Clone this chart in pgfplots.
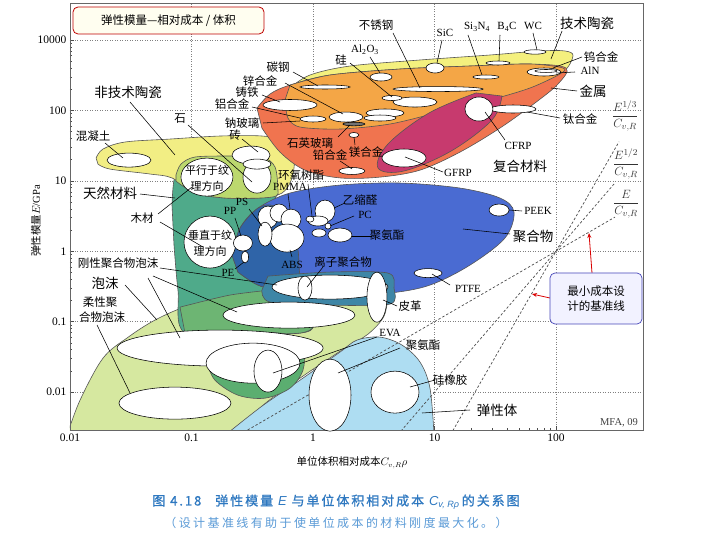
\documentclass[border=0pt]{standalone}
\usepackage{fontspec}
\setmainfont{Liberation Serif}
\newfontfamily\cjk{Noto Sans CJK SC}
\newfontfamily\capf[LetterSpace=15,FakeBold=1]{Noto Sans CJK SC}
\newfontfamily\capg[LetterSpace=20]{Noto Sans CJK SC}
\newfontfamily\lsans{Liberation Sans}
\usepackage{pgfplots}
\usepackage{pgfplotstable}
\pgfplotsset{compat=1.18}
\usetikzlibrary{arrows.meta}

\definecolor{cFoam}{HTML}{D6E8A0}
\definecolor{cElast}{HTML}{AEDDF2}
\definecolor{cNat}{HTML}{4FAA8A}
\definecolor{cNatFoam}{HTML}{6DB573}
\definecolor{cRing}{HTML}{5BAE70}
\definecolor{cNTC}{HTML}{F2EE84}
\definecolor{cNTCNat}{HTML}{BCD86E}
\definecolor{cPoly}{HTML}{4A6BD2}
\definecolor{cPolyNat}{HTML}{2F64A8}
\definecolor{cIono}{HTML}{3E86A6}
\definecolor{cTech}{HTML}{F4F07E}
\definecolor{cMetal}{HTML}{F0744F}
\definecolor{cTechMetal}{HTML}{F4A646}
\definecolor{cComp}{HTML}{C73A6E}
\definecolor{cEdge}{HTML}{555555}
\definecolor{capA}{HTML}{2E78C0}
\definecolor{capB}{HTML}{5A9AD6}

\pgfdeclareplotmark{ell}{%
  \pgfmathsetmacro\myangb{\myang+90}%
  \pgfpathellipse{\pgfpointorigin}{\pgfpointpolar{\myang}{\myrx pt}}{\pgfpointpolar{\myangb}{\myry pt}}%
  \pgfusepathqfillstroke}

\pgfplotstableread{
x y rx ry ang
67.1 676 11 2.2 0
33.3 471 12 2 0
26.5 298 13 2 0
10.1 400 9 5 0
79.6 351 17 4 0
82.7 363 11 1.5 0
10.7 201 45 2.5 0
6.91 131.5 22 5 0
4.47 150 10 2.5 0
3.63 298 11 4 0
1.256 215 25 2 0
0.647 119.4 27 5.5 0
1.0 75.5 13 3 0
1.87 80.5 17 5 0
3.92 91.9 19 4 0
3.56 78.0 16 3 0
2.17 44.8 5 2.5 0
2.09 13.8 13 3.5 0
44.3 104.7 23 4 0
23.2 104.7 14 12 0
5.61 21.1 22 9 0
0.0306 19.7 22 7 0
0.309 23.2 19 9 0
0.346 11.3 14 16 0
0.346 17.3 14 5 0
0.134 11.3 26 19 0
0.142 1.35 26 26 0
0.265 1.31 9.5 8 0
0.276 0.828 3.5 6 0
0.426 3.06 10 11 0
0.525 3.49 9 9 0
0.659 2.86 10 10 0
0.611 1.54 17 14 0
0.403 1.75 7 12 0
1.256 3.72 10 11 0
1.10 2.69 10 5 0
0.944 2.86 4 3 0
1.33 2.28 3 3 0
1.667 1.70 12 7 0
1.12 1.82 7 4 0
34.0 3.85 10 6 0
8.85 0.490 14 4.5 0
1.38 0.310 58 12 0
0.859 0.300 7 12 0
3.36 0.223 10 25 0
0.634 0.124 66 13 0
0.172 0.0422 103 18 0
0.321 0.0258 47 20 0
0.426 0.0199 14 21 0
0.0731 0.00698 56 16 0
1.38 0.00906 21 36 0
4.73 0.0100 24 21 0
}\bubbles

\pgfplotstableread{
x y rx ry ang
2.17 64.1 11 1.8 0
}\darkbub

\begin{document}
\begin{tikzpicture}[x=1pt,y=1pt]
\useasboundingbox (0,0) rectangle (710,539);
\begin{axis}[
  at={(70pt,109pt)}, anchor=south west, scale only axis,
  width=573pt, height=427pt,
  xmode=log, ymode=log,
  xmin=0.01, xmax=520, ymin=0.0029, ymax=3350,
  xtick={0.01,0.1,1,10,100}, xticklabels={0.01,0.1,1,10,100},
  ytick={0.01,0.1,1,10,100,1000}, yticklabels={0.01,0.1,1,10,100,10000},
  tick pos=left, tick align=inside,
  major tick length=4pt, minor tick length=2.2pt,
  tick style={black!70, line width=0.5pt},
  grid=major, major grid style={dash pattern=on 1pt off 1.5pt, black!50, line width=0.55pt},
  axis line style={black!60, line width=0.8pt},
  tick label style={font=\fontsize{11.5}{12}\selectfont},
  clip=true,
]
% envelopes
\addplot[fill=cFoam, draw=cEdge, line width=0.6pt, smooth, tension=0.55] coordinates {
(0.0095,0.0025) (0.0121,0.0077) (0.0187,0.0304) (0.030,0.060) (0.050,0.1054) (0.092,0.1667) (0.2075,0.239) (0.535,0.290) (1.38,0.310) (2.94,0.310) (3.99,0.231) (3.84,0.120) (2.84,0.0667) (1.83,0.0422) (0.782,0.0158) (0.380,0.00632) (0.232,0.0025)} -- cycle;
\addplot[fill=cElast, draw=cEdge, line width=0.6pt, smooth, tension=0.55] coordinates {
(0.192,0.0025) (0.380,0.00632) (0.782,0.0148) (1.667,0.0370) (2.30,0.0548) (3.56,0.0604) (5.40,0.0466) (7.60,0.0267) (9.18,0.0114) (9.91,0.0025)} -- cycle;
\addplot[fill=cNat, draw=cEdge, line width=0.6pt, smooth, tension=0.55] coordinates {
(0.0691,4.53) (0.0718,10.3) (0.0819,17.3) (0.107,21.8) (0.2075,22.5) (0.380,21.8) (0.487,15.7) (0.515,7.40) (0.477,4.25) (0.672,2.36) (0.753,1.04) (0.782,0.459) (0.982,0.239) (1.02,0.0895) (0.782,0.0689) (0.303,0.0667) (0.0884,0.0689) (0.0774,0.281) (0.0718,1.22)} -- cycle;
\addplot[fill=cNatFoam, draw=cEdge, line width=0.6pt, smooth, tension=0.4] coordinates {
(0.0804,0.161) (0.2075,0.239) (0.535,0.290) (0.982,0.300) (1.02,0.0895) (0.782,0.0689) (0.303,0.0667) (0.0884,0.0689)} -- cycle;
\addplot[fill=cRing, draw=cEdge, line width=0.6pt, smooth, tension=0.55] coordinates {
(0.134,0.0267) (0.156,0.0148) (0.241,0.00906) (0.403,0.00822) (0.647,0.0114) (0.827,0.0205) (0.827,0.0395) (0.647,0.0645) (0.333,0.0711) (0.172,0.0645) (0.134,0.0422)} -- cycle;
\addplot[fill=cNTC, draw=cEdge, line width=0.6pt, smooth, tension=0.55] coordinates {
(0.0164,21.1) (0.0187,28.3) (0.0284,35.6) (0.0665,39.2) (0.172,43.3) (0.380,43.3) (0.589,36.8) (0.698,22.5) (0.672,11.0) (0.556,6.71) (0.366,5.70) (0.189,5.70) (0.107,6.71) (0.0691,11.0) (0.0455,12.5) (0.0213,14.7) (0.0170,17.3)} -- cycle;
\addplot[fill=cNTCNat, draw=cEdge, line width=0.6pt, smooth, tension=0.5] coordinates {
(0.0745,12.1) (0.0819,17.3) (0.107,21.8) (0.2075,22.5) (0.380,21.8) (0.487,15.7) (0.515,7.40) (0.496,6.08) (0.366,5.70) (0.189,5.70) (0.107,6.71) (0.0745,9.93)} -- cycle;
\addplot[fill=cPoly, draw=cEdge, line width=0.6pt, smooth, tension=0.55] coordinates {
(0.2154,0.883) (0.251,2.14) (0.353,4.11) (0.647,6.71) (1.667,8.71) (5.20,9.31) (16.2,7.90) (34.6,5.70) (45.1,3.60) (38.0,1.54) (19.6,0.637) (9.18,0.331) (4.30,0.255) (1.667,0.231) (0.647,0.247) (0.353,0.331) (0.241,0.507)} -- cycle;
\addplot[fill=cPolyNat, draw=cEdge, line width=0.6pt, smooth, tension=0.5] coordinates {
(0.2154,0.883) (0.251,2.14) (0.353,4.11) (0.477,4.39) (0.672,2.36) (0.753,1.04) (0.782,0.459) (0.910,0.255) (0.647,0.247) (0.353,0.331) (0.241,0.507)} -- cycle;
\addplot[fill=cIono, draw=cEdge, line width=0.6pt, smooth, tension=0.5] coordinates {
(0.426,0.444) (1.38,0.507) (4.14,0.490) (4.64,0.300) (4.30,0.178) (1.38,0.172) (0.443,0.190) (0.380,0.281)} -- cycle;
\addplot[fill=cTech, draw=cEdge, line width=0.6pt, smooth, tension=0.55] coordinates {
(0.647,208) (0.944,318) (2.02,427) (7.60,520) (28.6,612) (73.9,698) (118.6,698) (138,593) (114,351) (61.1,208) (28.6,140.6) (11.1,94.9) (4.30,64.1) (1.667,54.4) (0.782,58.1) (0.622,78.0) (0.589,140.6)} -- cycle;
\addplot[fill=cMetal, draw=cEdge, line width=0.6pt, smooth, tension=0.55] coordinates {
(0.346,108) (0.443,171) (0.647,229) (1.38,318) (5.20,387) (19.6,427) (61.1,456) (120.8,400) (103.8,237) (67.1,127.4) (34.6,56.2) (16.2,25.6) (7.60,14.2) (3.56,11.3) (1.667,11.0) (0.859,14.2) (0.535,25.6) (0.380,56.2)} -- cycle;
\addplot[fill=cTechMetal, draw=cEdge, line width=0.6pt, smooth, tension=0.5] coordinates {
(0.647,229) (1.38,318) (5.20,387) (19.6,427) (61.1,456) (114,400) (107.9,329) (61.1,208) (28.6,140.6) (11.1,94.9) (4.30,64.1) (1.667,54.4) (0.782,58.1) (0.622,78.0) (0.589,140.6)} -- cycle;
\addplot[fill=cComp, draw=cEdge, line width=0.6pt, smooth, tension=0.6] coordinates {
(35.9,160) (29.7,73.1) (13.7,26.5) (5.61,13.8) (3.43,15.2) (4.14,33.3) (9.01,91.9) (22.0,177)} -- cycle;
% guide lines
\addplot[black!70, line width=0.7pt, dash pattern=on 2.5pt off 2pt] coordinates {(0.25,0.0025) (306,3.06)};
\addplot[black!70, line width=0.7pt, dash pattern=on 2.5pt off 2pt] coordinates {(5,0.0025) (306,9.36)};
\addplot[black!70, line width=0.7pt, dash pattern=on 2.5pt off 2pt] coordinates {(13.57,0.0025) (330,35.9)};
% bubbles
\addplot[scatter, only marks, mark=ell, line width=0.55pt, point meta=\thisrow{rx},
  scatter/use mapped color={draw=black, fill=white},
  visualization depends on={\thisrow{rx}\as\myrx},
  visualization depends on={\thisrow{ry}\as\myry},
  visualization depends on={\thisrow{ang}\as\myang}] table[x=x,y=y] {\bubbles};
\addplot[scatter, only marks, mark=ell, line width=0.55pt, point meta=\thisrow{rx},
  scatter/use mapped color={draw=black, fill=black!55},
  visualization depends on={\thisrow{rx}\as\myrx},
  visualization depends on={\thisrow{ry}\as\myry},
  visualization depends on={\thisrow{ang}\as\myang}] table[x=x,y=y] {\darkbub};
\draw[black!60, line width=0.8pt] (rel axis cs:0,0) rectangle (rel axis cs:1,1);
\end{axis}

\node[rotate=90, font=\fontsize{10.5}{12}\selectfont] at (36,318) {{\cjk 弹性模量}$E$/GPa};

\begin{scope}[shift={(0,539)}, yscale=-1]
\tikzset{lab/.style={font=\cjk\fontsize{11.5}{12}\selectfont, inner sep=0pt},
  big/.style={font=\cjk\fontsize{13.5}{14}\selectfont, inner sep=0pt},
  lat/.style={font=\fontsize{11}{12}\selectfont, inner sep=0pt},
  ld/.style={black, line width=0.55pt}}
% leaders
\draw[ld] (393,33)--(420,88);
\draw[ld] (370,57)--(380,73);
\draw[ld] (350,63)--(392,97);
\draw[ld] (293,72)--(318,86);
\draw[ld] (285,83)--(343,114);
\draw[ld] (262,95)--(280,102);
\draw[ld] (252,107)--(300,118);
\draw[ld] (263,123)--(300,121);
\draw[ld] (242,139)--(258,152);
\draw[ld] (188,125)--(252,182);
\draw[ld] (130,102)--(175,155);
\draw[ld] (105,143)--(123,158);
\draw[ld] (338,137)--(350,125);
\draw[ld] (340,161)--(352,169);
\draw[ld] (355,145)--(354,137);
\draw[ld] (442,40)--(437,63);
\draw[ld] (468,35)--(482,75);
\draw[ld] (500,35)--(499,61);
\draw[ld] (533,33)--(537,50);
\draw[ld] (562,31)--(551,59);
\draw[ld] (582,57)--(553,68);
\draw[ld] (575,72)--(556,73);
\draw[ld] (577,91)--(551,88);
\draw[ld] (560,118)--(527,112);
\draw[ld] (505,140)--(485,112);
\draw[ld] (443,172)--(405,157);
\draw[ld] (522,211)--(509,210);
\draw[ld] (510,234)--(463,229);
\draw[ld] (450,285)--(432,274);
\draw[ld] (345,203)--(334,208);
\draw[ld] (354,216)--(330,226);
\draw[ld] (372,236)--(352,236);
\draw[ld] (308,184)--(312,216);
\draw[ld] (288,194)--(290,209);
\draw[ld] (249,209)--(262,226);
\draw[ld] (235,218)--(241,236);
\draw[ld] (235,269)--(244,262);
\draw[ld] (292,257)--(290,250);
\draw[ld] (323,267)--(307,287);
\draw[ld] (140,194)--(175,198);
\draw[ld] (158,214)--(192,187);
\draw[ld] (160,222)--(203,247);
\draw[ld] (160,268)--(277,285);
\draw[ld] (153,276)--(237,312);
\draw[ld] (148,278)--(180,338);
\draw[ld] (125,285)--(157,320);
\draw[ld] (97,325)--(130,393);
\draw[ld] (377,337)--(273,373);
\draw[ld] (400,348)--(338,373);
\draw[ld] (435,380)--(410,387);
\draw[ld] (470,410)--(422,413);
\draw[ld] (397,306)--(383,300);
% big labels
\node[big] at (128,92) {非技术陶瓷};
\node[big] at (110,193) {天然材料};
\node[big] at (105,283) {泡沫};
\node[big] at (587,23) {技术陶瓷};
\node[big] at (593,91) {金属};
\node[big] at (520,166) {复合材料};
\node[big] at (533,236) {聚合物};
\node[big] at (497,410) {弹性体};
% small labels
\node[lab] at (376,25) {不锈钢};
\node[lab] at (341,60) {硅};
\node[lab] at (278,67) {碳钢};
\node[lab] at (260,81) {锌合金};
\node[lab] at (247,92) {铸铁};
\node[lab] at (232,104) {铝合金};
\node[lab] at (242,123) {钠玻璃};
\node[lab] at (235,135) {砖};
\node[lab] at (180,119) {石};
\node[lab] at (93,136) {混凝土};
\node[lab] at (310,143) {石英玻璃};
\node[lab] at (330,155) {铅合金};
\node[lab] at (366,152) {镁合金};
\node[lab] at (601,57) {钨合金};
\node[lab] at (580,119) {钛合金};
\node[lab] at (360,200) {乙缩醛};
\node[lab] at (387,235) {聚氨酯};
\node[lab] at (301,175) {环氧树酯};
\node[lab] at (343,262) {离子聚合物};
\node[lab] at (142,218) {木材};
\node[lab] at (118,263) {刚性聚合物泡沫};
\node[lab] at (100,302) {柔性聚};
\node[lab] at (102,317) {合物泡沫};
\node[lab] at (410,306) {皮革};
\node[lab] at (423,345) {聚氨酯};
\node[lab] at (450,380) {硅橡胶};
\node[lab, font=\cjk\fontsize{11}{12}\selectfont] at (207,170) {平行于纹};
\node[lab, font=\cjk\fontsize{11}{12}\selectfont] at (207,186) {理方向};
\node[lab, font=\cjk\fontsize{11}{12}\selectfont] at (210,235) {垂直于纹};
\node[lab, font=\cjk\fontsize{11}{12}\selectfont] at (210,251) {理方向};
% latin labels
\node[lat] at (365,50) {Al\textsubscript{2}O\textsubscript{3}};
\node[lat] at (445,33) {SiC};
\node[lat] at (477,27) {Si\textsubscript{3}N\textsubscript{4}};
\node[lat] at (507,27) {B\textsubscript{4}C};
\node[lat] at (533,26) {WC};
\node[lat] at (590,71) {AlN};
\node[lat] at (518,146) {CFRP};
\node[lat] at (458,173) {GFRP};
\node[lat] at (538,211) {PEEK};
\node[lat] at (468,289) {PTFE};
\node[lat] at (365,215) {PC};
\node[lat] at (290,187) {PMMA};
\node[lat] at (242,202) {PS};
\node[lat] at (230,211) {PP};
\node[lat] at (228,273) {PE};
\node[lat] at (292,265) {ABS};
\node[lat] at (390,333) {EVA};
% index fractions
\node[text=black!80, font=\fontsize{12.5}{14}\selectfont] at (625,116) {$\displaystyle\frac{E^{1/3}}{C_{v,R}}$};
\node[text=black!80, font=\fontsize{12.5}{14}\selectfont] at (626,164) {$\displaystyle\frac{E^{1/2}}{C_{v,R}}$};
\node[text=black!80, font=\fontsize{12.5}{14}\selectfont] at (626,204) {$\displaystyle\frac{E}{C_{v,R}}$};
% title box
\node[draw=red!75!black, fill=yellow!6, rounded corners=5pt, line width=0.8pt, minimum width=191pt, minimum height=27pt, inner sep=0pt, font=\cjk\fontsize{11.5}{12}\selectfont] at (168.5,20.5) {弹性模量—相对成本 / 体积};
% callout
\draw[red!85!black, line width=0.8pt, -{Stealth[length=5pt,width=4pt]}] (592,273)--(589,233);
\draw[red!85!black, line width=0.8pt, -{Stealth[length=5pt,width=4pt]}] (550,298)--(532,294);
\node[draw=blue!45!gray, fill=blue!5, rounded corners=5pt, line width=0.7pt, minimum width=92pt, minimum height=51pt, inner sep=0pt, align=center, font=\cjk\fontsize{11.5}{15}\selectfont] at (596,298.5) {最小成本设\\计的基准线};
\node[text=black!75, font=\fontsize{10.5}{12}\selectfont] at (619,423) {MFA, 09};
% x label
\node[font=\fontsize{10.5}{12}\selectfont] at (352,463) {{\cjk 单位体积相对成本}$C_{v,R}\rho$};
% caption
\node[text=capA, font=\capf\fontsize{13}{14}\selectfont] at (336,502) {图 4.18\hspace{14pt}弹性模量 {\lsans\itshape E} 与单位体积相对成本 {\lsans\itshape C}\textsubscript{\lsans\itshape v, Rρ}\,的关系图};
\node[text=capB, font=\capg\fontsize{12}{13}\selectfont] at (336,523) {（设计基准线有助于使单位成本的材料刚度最大化。）};
\end{scope}
\end{tikzpicture}
\end{document}
